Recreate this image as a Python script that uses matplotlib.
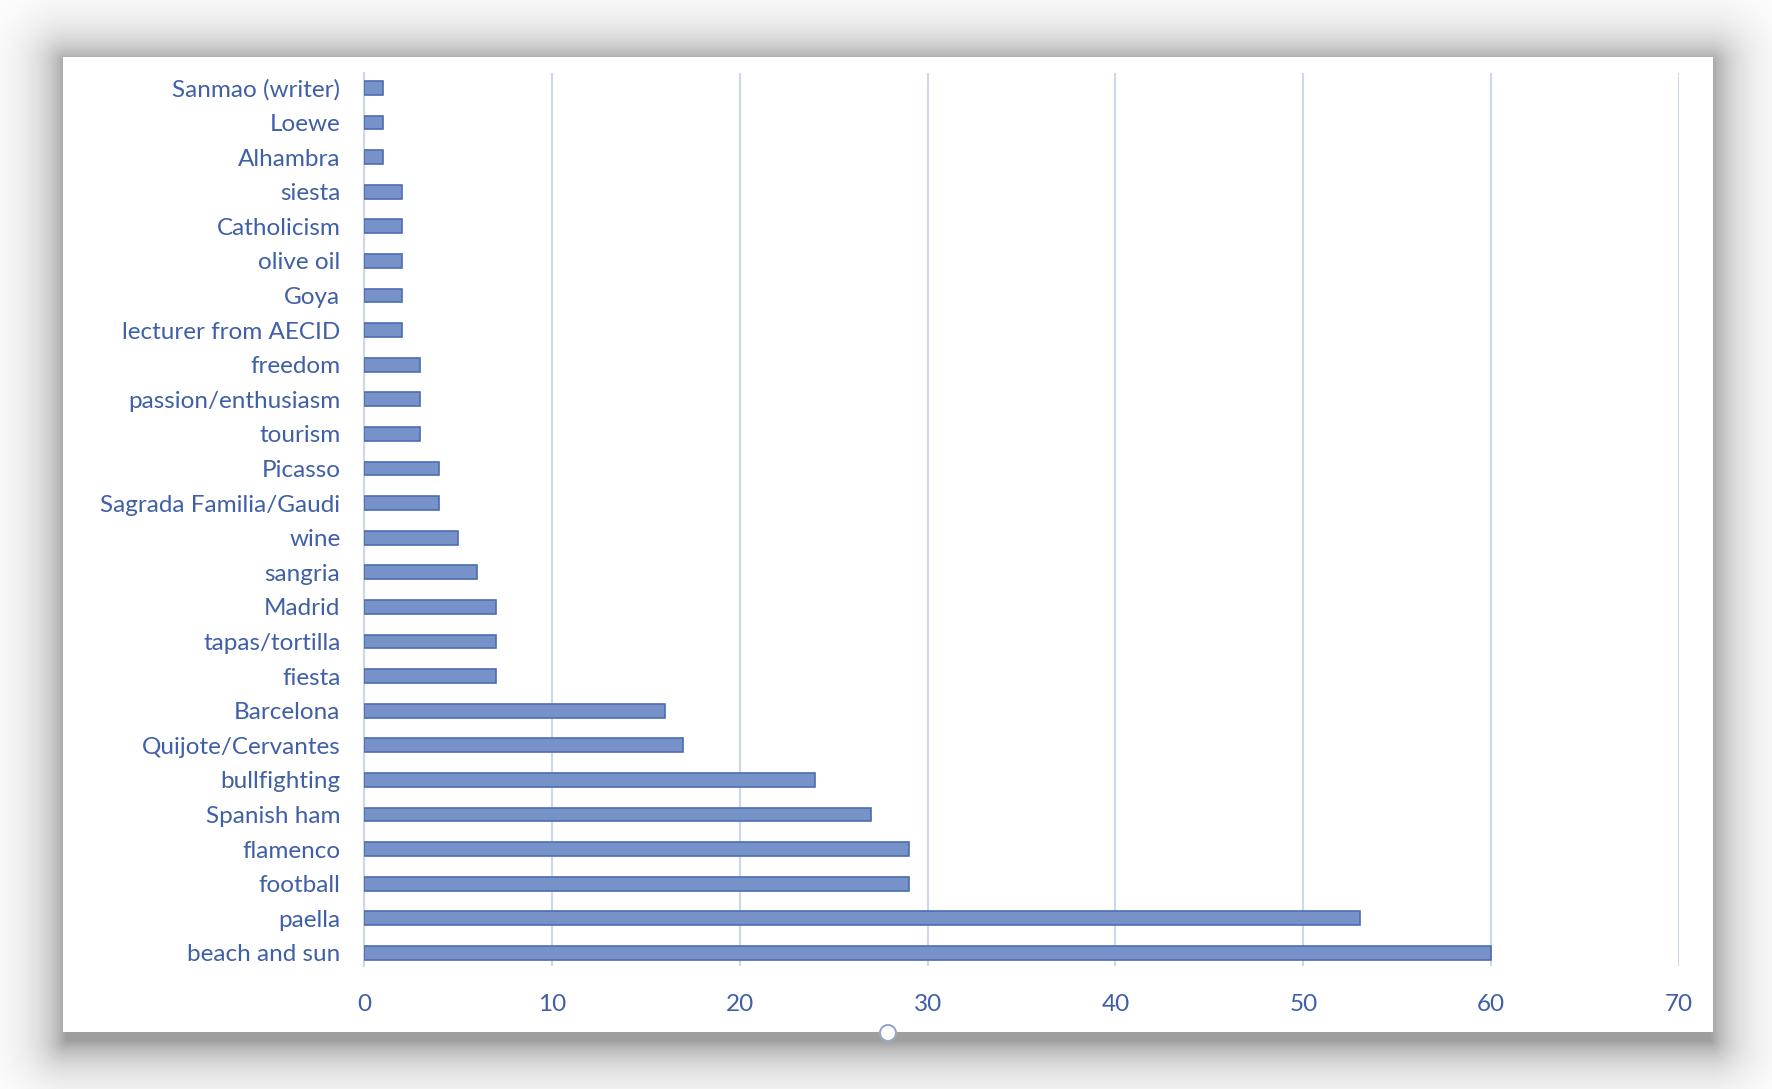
import numpy as np
import matplotlib.pyplot as plt
from matplotlib.patches import Rectangle, Circle

# data, top to bottom as in the chart
labels = ["Sanmao (writer)", "Loewe", "Alhambra", "siesta", "Catholicism",
          "olive oil", "Goya", "lecturer from AECID", "freedom",
          "passion/enthusiasm", "tourism", "Picasso", "Sagrada Familia/Gaudi",
          "wine", "sangria", "Madrid", "tapas/tortilla", "fiesta", "Barcelona",
          "Quijote/Cervantes", "bullfighting", "Spanish ham", "flamenco",
          "football", "paella", "beach and sun"]
counts = [1, 1, 1, 2, 2, 2, 2, 2, 3, 3, 3, 4, 4, 5, 6, 7, 7, 7, 16, 17, 24,
          27, 29, 29, 53, 60]
xticks = [0, 10, 20, 30, 40, 50, 60, 70]

W, H = 1772, 1089
text_col = "#3f5fa6"
grid_col = "#cdd6ea"

plt.rcParams['font.family'] = ['Lato', 'DejaVu Sans']
fig = plt.figure(figsize=(W / 100, H / 100), dpi=100)

# soft shadow behind the white chart panel
bg = fig.add_axes([0, 0, 1, 1])
px, py = np.meshgrid(np.arange(W), np.arange(H))
x0, x1, y0, y1 = 66, 1710, 62, 1040
dx = np.maximum(np.maximum(x0 - px, px - x1), 0)
dy = np.maximum(np.maximum(y0 - py, py - y1), 0)
d = np.hypot(dx, dy)
shade = 1 - 0.38 * np.exp(-d / 26.0)
bg.imshow(shade, cmap="gray", vmin=0, vmax=1, extent=[0, W, H, 0],
          aspect="auto", interpolation="bilinear")
bg.add_patch(Rectangle((63, 57), 1650, 975, facecolor="white",
                       edgecolor="none"))
bg.add_patch(Circle((888, 1033), 8, facecolor="white", edgecolor="#9aa8c8",
                    lw=1.5))
bg.set_xlim(0, W)
bg.set_ylim(H, 0)
bg.axis("off")

ax = fig.add_axes([364 / W, 1 - 966 / H, (1679 - 364) / W, (966 - 73) / H])
ax.patch.set_alpha(0)
pos = np.arange(len(labels))[::-1]
ax.barh(pos, counts, height=0.4, color="#7692c9", edgecolor="#4d6db0",
        linewidth=1.2, zorder=3)
ax.set_xlim(0, 70)
ax.set_ylim(-0.38, len(labels) - 1 + 0.43)
ax.set_xticks(xticks)
ax.set_yticks(pos)
ax.set_yticklabels(labels)
ax.grid(axis="x", color=grid_col, lw=1.5, zorder=0)
for s in ["top", "right", "bottom"]:
    ax.spines[s].set_visible(False)
ax.spines["left"].set_color(grid_col)
ax.spines["left"].set_linewidth(1.5)
ax.tick_params(axis="y", length=0, pad=17, labelsize=17.5,
               labelcolor=text_col)
ax.tick_params(axis="x", length=0, pad=20, labelsize=17.5,
               labelcolor=text_col)

fig.savefig("out.png", dpi=100)
